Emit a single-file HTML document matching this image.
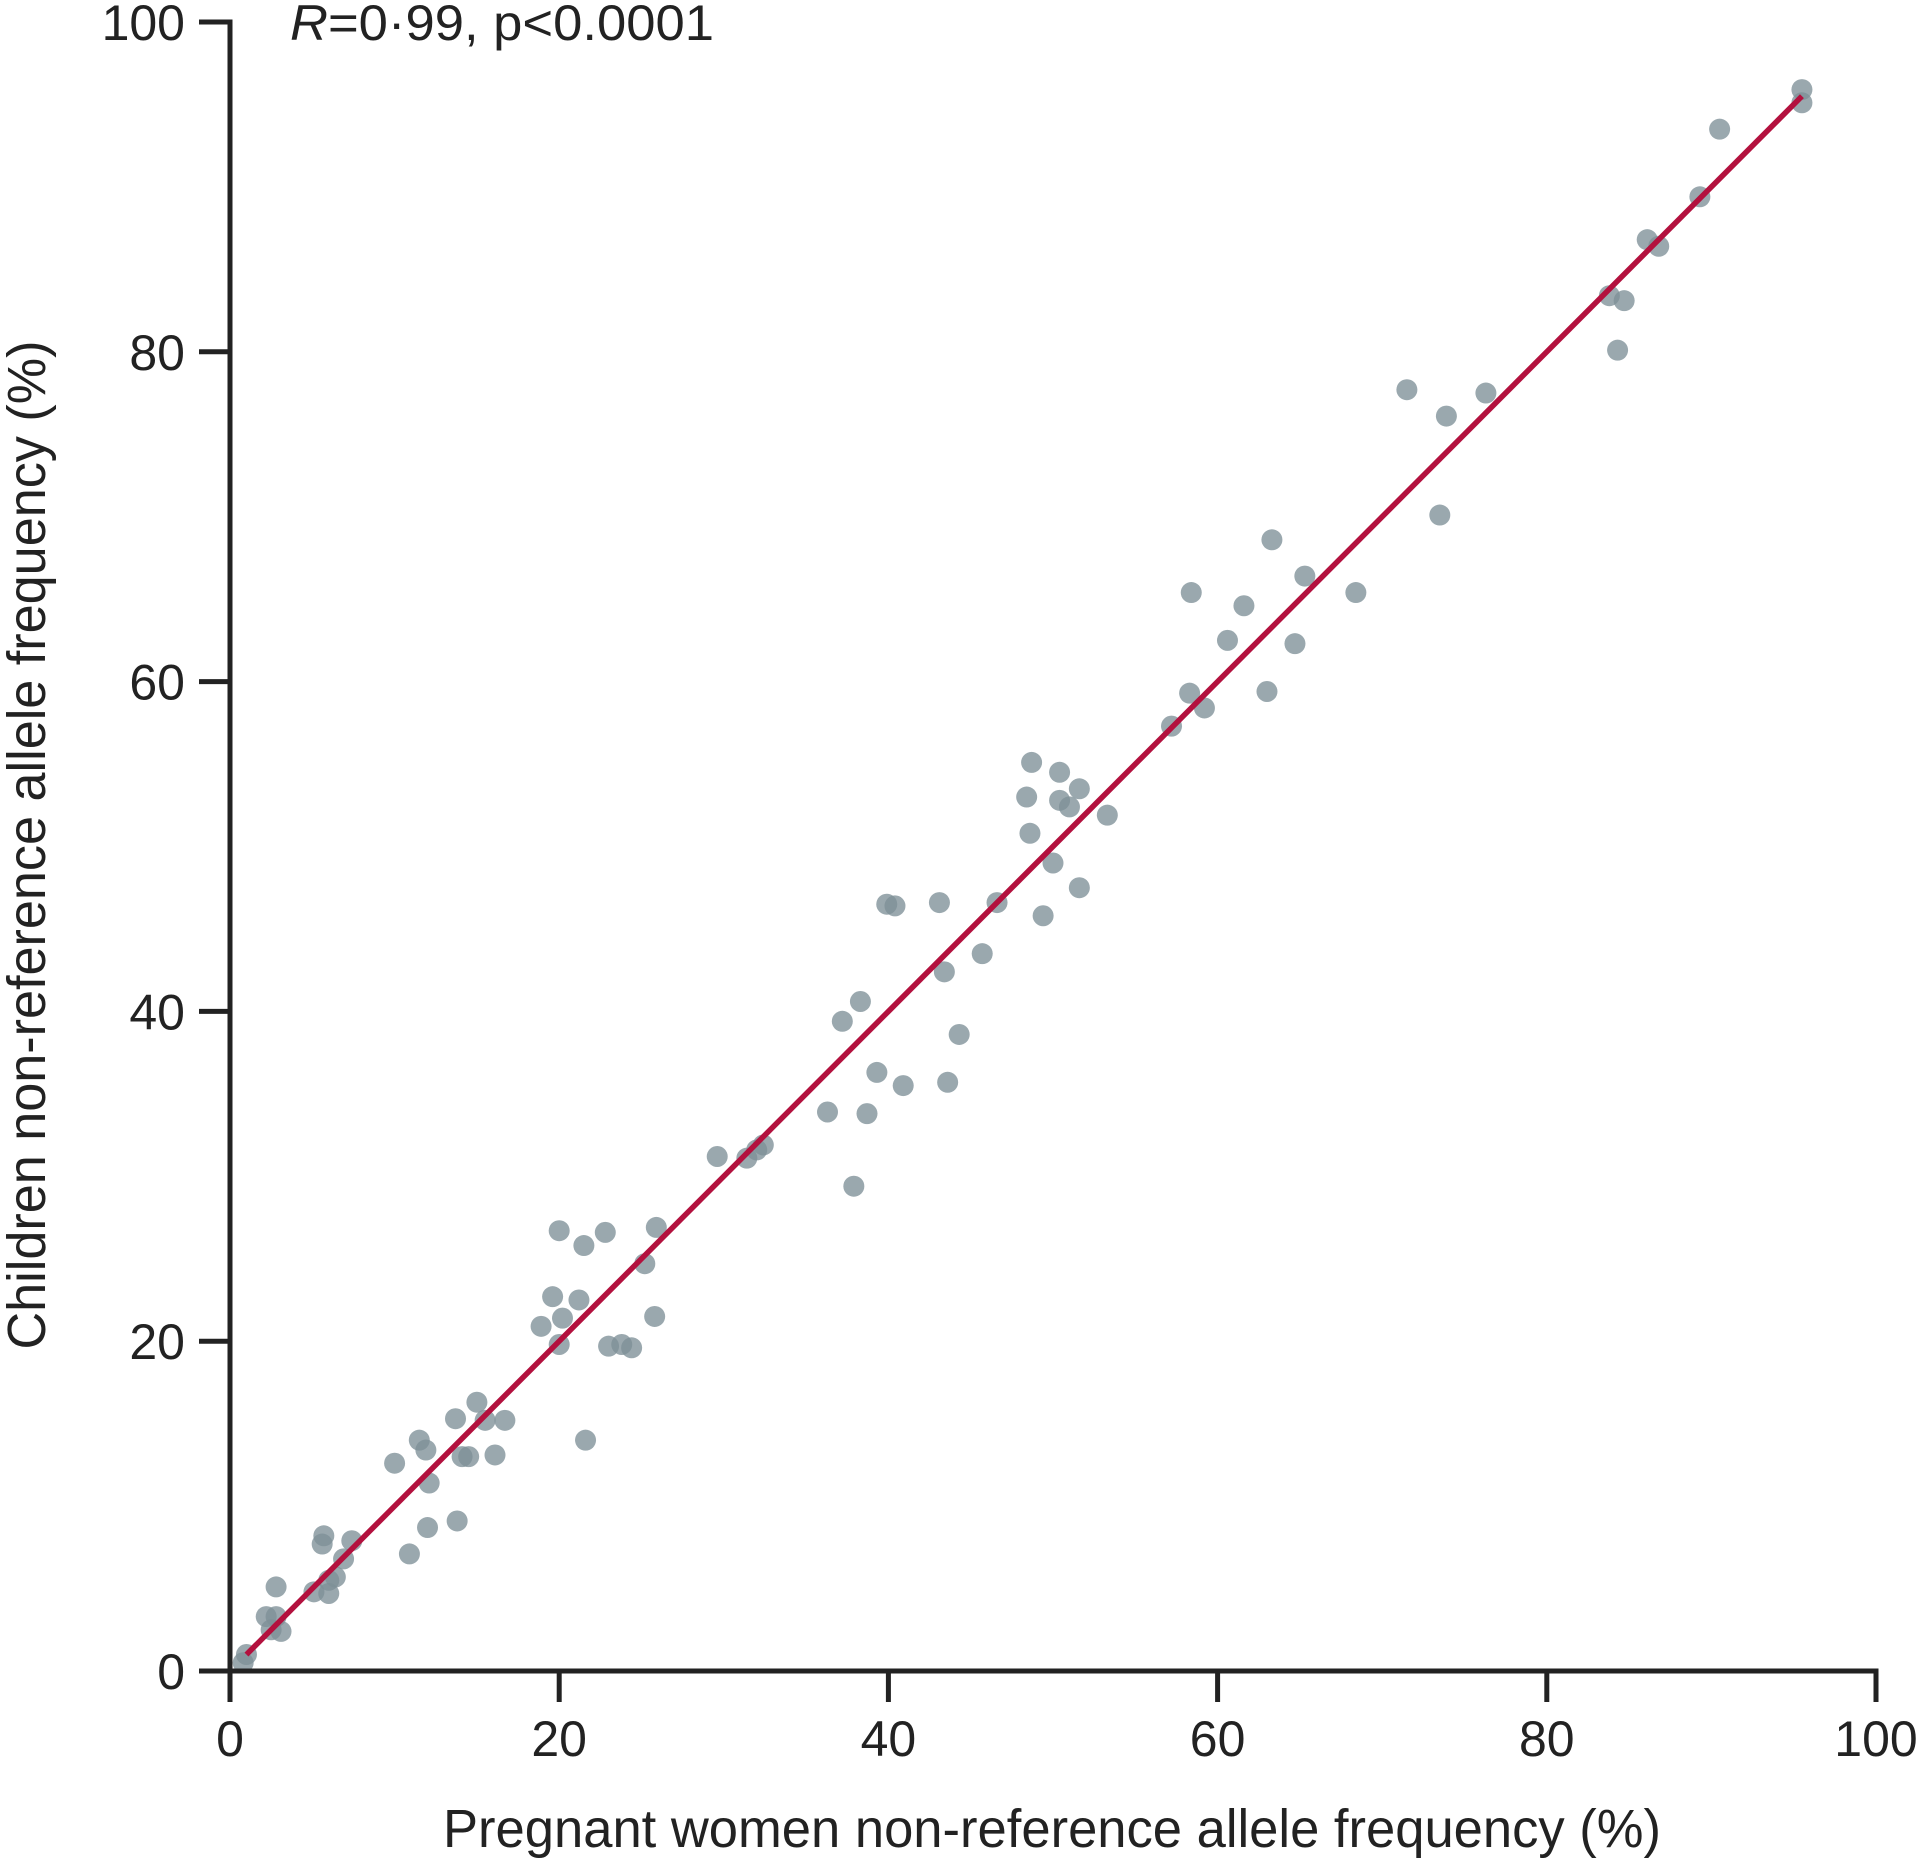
<!DOCTYPE html>
<html><head><meta charset="utf-8"><style>
html,body{margin:0;padding:0;background:#fff;}
svg{display:block;font-family:"Liberation Sans",sans-serif;}
</style></head><body>
<svg id="chart" width="1920" height="1863"></svg>
<script>
const xs=[95.5,95.5,90.5,89.3,86.1,86.8,83.8,84.7,84.3,71.5,76.3,73.9,73.5,63.3,65.3,58.4,68.4,61.6,60.6,64.7,58.3,63.0,59.2,57.2,48.7,50.4,51.6,48.4,50.4,51.0,53.3,48.6,50.0,51.6,49.4,43.1,39.9,40.4,46.6,45.7,43.4,38.3,37.2,44.3,39.3,40.9,43.6,36.3,38.7,37.9,29.6,31.4,32.4,32.0,25.9,20.0,22.8,21.5,25.2,19.6,21.2,20.2,25.8,18.9,20.0,23.0,23.8,24.4,15.0,13.7,16.7,15.5,11.5,11.9,21.6,10.0,14.1,14.5,16.1,12.1,12.0,13.8,10.9,7.4,5.7,5.6,6.9,6.4,6.0,2.8,5.1,6.0,2.2,2.8,2.5,3.1,1.0,0.8];
const ys=[95.9,95.1,93.5,89.4,86.8,86.4,83.4,83.1,80.1,77.7,77.5,76.1,70.1,68.6,66.4,65.4,65.4,64.6,62.5,62.3,59.3,59.4,58.4,57.3,55.1,54.5,53.5,53.0,52.8,52.4,51.9,50.8,49.0,47.5,45.8,46.6,46.5,46.4,46.6,43.5,42.4,40.6,39.4,38.6,36.3,35.5,35.7,33.9,33.8,29.4,31.2,31.1,31.9,31.6,26.9,26.7,26.6,25.8,24.7,22.7,22.5,21.4,21.5,20.9,19.8,19.7,19.8,19.6,16.3,15.3,15.2,15.2,14.0,13.4,14.0,12.6,13.0,13.0,13.1,11.4,8.7,9.1,7.1,7.9,8.2,7.7,6.8,5.7,5.5,5.1,4.8,4.7,3.3,3.3,2.5,2.4,1.0,0.5];
const fitX=[1,95.5];
const fitY=[1,95.5];
const xTicks=[0,20,40,60,80,100];
const yTicks=[0,20,40,60,80,100];

const NS="http://www.w3.org/2000/svg";
const svg=document.getElementById('chart');
const X0=230,X1=1876,Y0=1671,Y1=22;
const sx=v=>X0+(X1-X0)*v/100;
const sy=v=>Y0-(Y0-Y1)*v/100;
function mk(t,a,p){const e=document.createElementNS(NS,t);for(const k in a)e.setAttribute(k,a[k]);(p||svg).appendChild(e);return e;}

const pts=mk('g',{});


xs.forEach((x,i)=>{
  const c=mk('circle',{cx:sx(x),cy:sy(ys[i]),r:10.5,fill:'#7d8f97','fill-opacity':0.78},pts);
  
  
});
const fl=mk('line',{x1:sx(fitX[0]),y1:sy(fitY[0]),x2:sx(fitX[1]),y2:sy(fitY[1]),stroke:'#b3113e','stroke-width':5.5,'stroke-linecap':'butt'});



const ax=mk('path',{d:`M${X0-30} ${Y1}H${X0}V${Y0}H${X1}V${Y0+31}`,fill:'none',stroke:'#222','stroke-width':5});



xTicks.forEach(v=>{
  const t=mk('line',{x1:sx(v),x2:sx(v),y1:Y0,y2:Y0+31,stroke:'#222','stroke-width':5});
  
  
  const l=mk('text',{x:sx(v),y:Y0+85,'text-anchor':'middle','font-size':50,fill:'#222'});
  l.textContent=v;
  
  
});
yTicks.forEach(v=>{
  const t=mk('line',{x1:X0-31,x2:X0,y1:sy(v),y2:sy(v),stroke:'#222','stroke-width':5});
  
  
  const l=mk('text',{x:185,y:sy(v)+18,'text-anchor':'end','font-size':50,fill:'#222'});
  l.textContent=v;
  
  
});
const xt=mk('text',{x:443,y:1847,'font-size':54,fill:'#222',textLength:1218,lengthAdjust:'spacingAndGlyphs'});
xt.textContent='Pregnant women non-reference allele frequency (%)';


const yt=mk('text',{x:0,y:0,'font-size':54,fill:'#222','text-anchor':'middle',textLength:1009,lengthAdjust:'spacingAndGlyphs',transform:'translate(45,845) rotate(-90)'});
yt.textContent='Children non-reference allele frequency (%)';


const an=mk('text',{x:290,y:40,'font-size':50,fill:'#222',textLength:424,lengthAdjust:'spacingAndGlyphs'});
an.innerHTML='<tspan font-style="italic">R</tspan>=0·99, p&lt;0.0001';


</script>
</body></html>
